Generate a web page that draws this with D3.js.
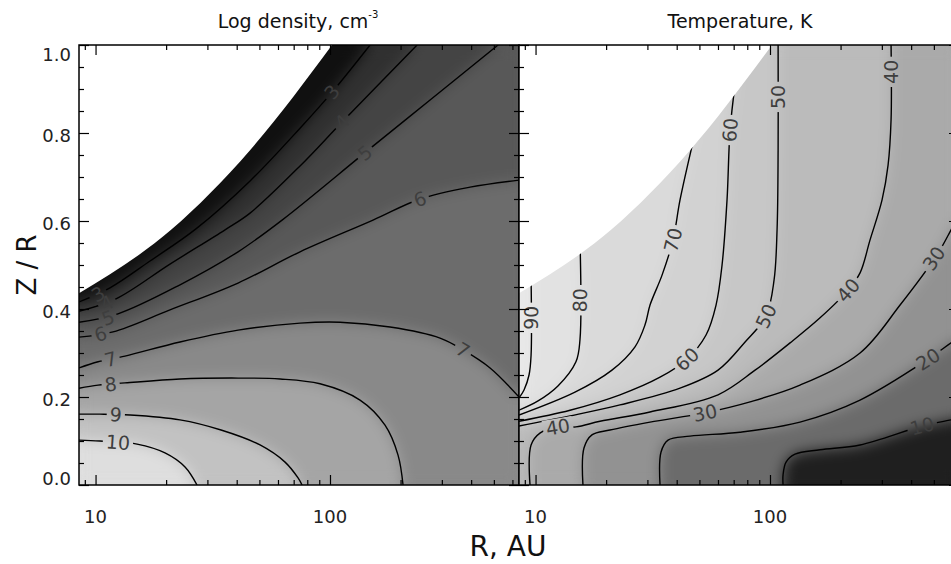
<!DOCTYPE html>
<html>
<head>
<meta charset="utf-8">
<script src="https://cdn.jsdelivr.net/npm/d3@7"></script>
<style>
  body { margin: 0; background: #fff; }
  text { font-family: "DejaVu Sans", sans-serif; }
</style>
</head>
<body>
<svg id="chart" width="951" height="564"></svg>
<script>
// ---- data: R in AU, z = Z/R ----
const rDomain = [8.5, 640];
const zDomain = [0, 1];
const zTicks = [0, 0.2, 0.4, 0.6, 0.8, 1.0];
const rTicks = [10, 100];
const rMinor = [9, 20, 30, 40, 50, 60, 70, 80, 90, 200, 300, 400, 500, 600];

// upper edge of the model grid (white above)
const gridEdge = [[8.5,0.436],[21,0.58],[45.6,0.761],[102,1.0]];

const densLevels = [3, 4, 5, 6, 7, 8, 9, 10];
const dens3 = [[8.5,0.416],[11.52,0.448],[17.07,0.509],[26.8,0.582],[45.6,0.691],[74.5,0.811],[102.1,0.893],[148.2,1.0]];
const dens4 = [[8.5,0.395],[12.22,0.423],[20.77,0.502],[35.67,0.580],[45.6,0.618],[74.5,0.725],[112.6,0.825],[235.2,1.0]];
const dens5 = [[8.5,0.370],[12.46,0.389],[22.92,0.455],[40.53,0.530],[62.45,0.602],[145.3,0.761],[267.2,0.875],[521.1,1.0]];
const dens6 = [[8.5,0.336],[11.87,0.348],[20.77,0.398],[40.53,0.459],[74.5,0.530],[152.6,0.602],[242.2,0.650],[395.8,0.677],[640,0.693]];
const dens7 = [[8.5,0.266],[10.25,0.280],[13.35,0.293],[22.92,0.325],[40.53,0.352],[74.5,0.368],[110.4,0.370],[180.4,0.359],[294.8,0.334],[369.5,0.307],[481.7,0.266],[640,0.200]];
const dens8 = [[8.5,0.220],[10.25,0.227],[13.35,0.232],[22.92,0.241],[40.53,0.243],[61.24,0.241],[90.7,0.230],[134.3,0.193],[171.7,0.136],[195.1,0.068],[204.9,0]];
const dens9 = [[8.5,0.161],[10.44,0.161],[14.03,0.159],[22.92,0.148],[34.3,0.125],[50.31,0.091],[64.32,0.052],[73.08,0.016],[76.0,0]];
const dens10 = [[8.5,0.102],[10.44,0.100],[15.03,0.093],[19.78,0.073],[24.08,0.041],[27.09,0]];
const densLines = [dens3, dens4, dens5, dens6, dens7, dens8, dens9, dens10];
// [level, R, z]
const densLabels = [[3,10.25,0.434],[4,11.19,0.414],[5,11.3,0.38],[6,10.5,0.343],[7,11.6,0.286],[8,11.6,0.229],
  [9,12.2,0.160],[10,12.46,0.097],[3,102,0.893],[4,112.6,0.825],[5,141,0.755],[6,242.2,0.650],[7,369.5,0.307]];

const tempLevels = [90, 80, 70, 60, 50, 40, 30, 20, 10];
const temp90 = [[9.57,0.47],[9.57,0.295],[9.38,0.25],[8.93,0.216],[8.5,0.198]];
const temp80 = [[15.47,0.56],[15.47,0.330],[14.87,0.280],[12.46,0.225],[10.25,0.191],[8.5,0.170]];
const temp70 = [[46.96,0.78],[41.33,0.648],[38.58,0.557],[34.64,0.477],[30.78,0.409],[29.31,0.364],[26.56,0.314],[21.18,0.261],[14.73,0.211],[8.5,0.159]];
const temp60 = [[70.96,0.91],[67.57,0.807],[65.58,0.648],[62.45,0.5],[58.87,0.409],[53.36,0.341],[44.27,0.286],[33.96,0.245],[22.92,0.205],[14.03,0.170],[8.5,0.145]];
const temp50 = [[108.3,1.0],[108.3,0.761],[107.2,0.580],[104.1,0.466],[96.2,0.384],[78.3,0.325],[60.04,0.261],[41.33,0.220],[22.92,0.182],[14.03,0.157],[8.5,0.134]];
const temp40 = [[328.4,1.0],[328.4,0.830],[318.9,0.727],[300.6,0.648],[267.2,0.557],[242.2,0.482],[215.3,0.443],[163.5,0.380],[121.8,0.323],[86.37,0.261],[60.04,0.205],[30.78,0.166],[18.84,0.145],[14.87,0.132],[12.46,0.132],[10.44,0.118],[9.57,0.091],[9.47,0]];
const temp30 = [[640,0.614],[592.1,0.580],[521.1,0.527],[358.8,0.409],[242.2,0.300],[134.3,0.227],[82.24,0.189],[52.84,0.164],[30.78,0.143],[20.77,0.125],[17.4,0.114],[16.09,0.084],[15.93,0]];
const temp20 = [[640,0.334],[592.1,0.323],[472.4,0.286],[242.2,0.193],[134.3,0.143],[74.5,0.120],[45.6,0.111],[36.74,0.102],[34.3,0.075],[33.96,0]];
const temp10 = [[640,0.152],[592.1,0.148],[445.4,0.134],[242.2,0.091],[163.5,0.080],[127.9,0.070],[117.1,0.052],[113.7,0.023],[113.7,0]];
const tempLines = [temp90, temp80, temp70, temp60, temp50, temp40, temp30, temp20, temp10];
const tempLabels = [[90,9.57,0.38],[80,15.47,0.42],[70,38.58,0.557],[60,67.57,0.807],[60,44.27,0.286],[50,108.3,0.882],
  [50,96.2,0.384],[40,328.4,0.939],[40,215.3,0.443],[40,12.46,0.132],[30,500,0.515],[30,52.84,0.164],[20,472.4,0.286],[10,445.4,0.134]];

// ---- layout ----
const W = 951, H = 564;
const yTop = 45, yBot = 485;
const svg = d3.select("#chart");
const defs = svg.append("defs");

const y = d3.scaleLinear().domain(zDomain).range([yBot, yTop]);
const xLeft = d3.scaleLog().domain(rDomain).range([79, 519]);
const xRight = d3.scaleLog().domain(rDomain).range([519, 959]);

const densGray = d3.scaleLinear().domain([2, 3.5, 6.5, 10.5, 11.5]).range([0, 48, 108, 222, 238]).clamp(true);
const tempGrayLog = d3.scaleLinear()
  .domain([5, 10, 20, 40, 100].map(Math.log10)).range([15, 75, 130, 180, 236]).clamp(true);
const tempGray = t => tempGrayLog(Math.log10(t));
const grey = g => { const v = Math.round(g); return d3.rgb(v, v, v).formatHex(); };

// blur, then make it opaque again so the panel edges keep their colour
const soft = defs.append("filter").attr("id", "soft")
  .attr("x", "-10%").attr("y", "-10%").attr("width", "120%").attr("height", "120%")
  .attr("color-interpolation-filters", "sRGB");
soft.append("feGaussianBlur").attr("stdDeviation", 7).attr("result", "b");
soft.append("feComponentTransfer").attr("in", "b")
  .append("feFuncA").attr("type", "table").attr("tableValues", "1 1");

const curve = d3.curveCatmullRom.alpha(0.5);

// walk the panel border clockwise from the end of a contour back to its start
function closeRing(pts, x0, x1, y0, y1) {
  const w = x1 - x0, h = y1 - y0, P = 2 * (w + h);
  const pos = p => {
    const d = [Math.abs(p[1]-y0), Math.abs(p[0]-x1), Math.abs(p[1]-y1), Math.abs(p[0]-x0)];
    const s = d.indexOf(Math.min(...d));
    if (s === 0) return [p[0]-x0, [p[0], y0]];
    if (s === 1) return [w + p[1]-y0, [x1, p[1]]];
    if (s === 2) return [w + h + x1 - p[0], [p[0], y1]];
    return [2*w + h + y1 - p[1], [x0, p[1]]];
  };
  const corners = [[0,[x0,y0]],[w,[x1,y0]],[w+h,[x1,y1]],[2*w+h,[x0,y1]]];
  const tEnd = pos(pts[pts.length-1])[0];
  const [tStart, pStart] = pos(pts[0]);
  const span = (tStart - tEnd + P) % P;
  const extra = corners.map(([t, c]) => [(t - tEnd + P) % P, c])
    .filter(([dt]) => dt > 0 && dt < span)
    .sort((a, b) => a[0] - b[0]).map(d => d[1]);
  extra.push(pStart);
  return extra;
}

function angleAt(pts, p) {
  let best = 0, bd = Infinity;
  pts.forEach((q, i) => {
    const d = (q[0]-p[0])**2 + (q[1]-p[1])**2;
    if (d < bd) { bd = d; best = i; }
  });
  const a = pts[Math.max(best-1, 0)], b = pts[Math.min(best+1, pts.length-1)];
  let ang = Math.atan2(b[1]-a[1], b[0]-a[0]) * 180 / Math.PI;
  if (ang >= 90) ang -= 180;
  else if (ang < -90) ang += 180;
  return ang;
}

function drawPanel(id, x, levels, lines, labels, bandColor, baseColor) {
  const [x0, x1] = x.range();
  const g = svg.append("g");
  defs.append("clipPath").attr("id", "clip-" + id)
    .append("rect").attr("x", x0).attr("y", yTop).attr("width", x1 - x0).attr("height", yBot - yTop);

  const px = lines.map(l => l.map(d => [x(d[0]), y(d[1])]));
  const order = d3.range(levels.length).sort((a, b) => levels[a] - levels[b]);
  const lineGen = d3.line().curve(curve);
  const ePts = gridEdge.map(d => [x(d[0]), y(d[1])]);
  const edgePath = d3.line().curve(d3.curveMonotoneX)(ePts);

  // area under the grid edge, for the contour lines
  defs.append("clipPath").attr("id", "under-" + id)
    .append("path").attr("d", edgePath + `L${x1},${yTop}L${x1},${yBot}L${x0},${yBot}Z`);

  // flat bands, with a blurred copy on top to smooth the steps
  const fills = g.append("g").attr("clip-path", `url(#clip-${id})`);
  [null, "url(#soft)"].forEach(f => {
    const layer = fills.append("g").attr("filter", f);
    layer.append("rect").attr("x", x0).attr("y", yTop)
      .attr("width", x1 - x0).attr("height", yBot - yTop).attr("fill", baseColor);
    order.forEach(i => {
      const ring = closeRing(px[i], x0, x1, yTop, yBot);
      layer.append("path")
        .attr("d", lineGen(px[i]) + ring.map(p => `L${p[0]},${p[1]}`).join("") + "Z")
        .attr("fill", bandColor(levels[i]));
    });
  });

  // white region above the grid edge
  fills.append("path")
    .attr("d", edgePath + `L${x0 - 5},${yTop - 5}L${x0 - 5},${ePts[0][1]}Z`)
    .attr("fill", "#fff");

  // label gaps
  const fs = 19;
  const lab = labels.map(([v, r, z]) => {
    const p = [x(r), y(z)];
    const i = levels.indexOf(v);
    return { v, p, a: angleAt(px[i], p) };
  });
  const mask = defs.append("mask").attr("id", "mask-" + id)
    .attr("maskUnits", "userSpaceOnUse").attr("x", 0).attr("y", 0).attr("width", W).attr("height", H);
  mask.append("rect").attr("width", W).attr("height", H).attr("fill", "#fff");
  lab.forEach(d => {
    const w = String(d.v).length * fs * 0.64 + 6, h = fs * 0.9;
    mask.append("rect").attr("x", -w/2).attr("y", -h/2).attr("width", w).attr("height", h)
      .attr("transform", `translate(${d.p[0]},${d.p[1]}) rotate(${d.a})`).attr("fill", "#000");
  });

  const lg = g.append("g").attr("clip-path", `url(#under-${id})`)
    .append("g").attr("mask", `url(#mask-${id})`);
  px.forEach(p => lg.append("path").attr("d", lineGen(p))
    .attr("fill", "none").attr("stroke", "#000").attr("stroke-width", 1.4));

  g.append("g").attr("clip-path", `url(#clip-${id})`).selectAll("text")
    .data(lab).join("text")
    .attr("transform", d => `translate(${d.p[0]},${d.p[1]}) rotate(${d.a})`)
    .attr("text-anchor", "middle").attr("dy", "0.36em")
    .attr("font-size", fs).attr("fill", "#3e3e3e")
    .text(d => d.v);

  // ticks on all four sides, pointing inward
  const minorZ = d3.range(0.05, 1, 0.05).filter(v => Math.abs(v * 5 - Math.round(v * 5)) > 1e-6);
  const axes = [
    [d3.axisBottom(x), `translate(0,${yBot})`, rTicks, rMinor],
    [d3.axisTop(x), `translate(0,${yTop})`, rTicks, rMinor],
    [d3.axisLeft(y), `translate(${x0},0)`, zTicks, minorZ],
    [d3.axisRight(y), `translate(${x1},0)`, zTicks, minorZ]
  ];
  axes.forEach(([ax, tr, maj, min]) => {
    [[maj, 10], [min, 5]].forEach(([vals, len]) => {
      const a = g.append("g").attr("transform", tr)
        .call(ax.tickValues(vals).tickSize(-len).tickFormat(""));
      a.select(".domain").remove();
      a.selectAll("line").attr("stroke-width", 1.2);
    });
  });

  g.append("rect").attr("x", x0).attr("y", yTop).attr("width", x1 - x0).attr("height", yBot - yTop)
    .attr("fill", "none").attr("stroke", "#000").attr("stroke-width", 1.5);

  g.selectAll(".rlab").data(rTicks).join("text")
    .attr("class", "rlab")
    .attr("x", d => x(d)).attr("y", 523)
    .attr("text-anchor", "middle").attr("font-size", 18).attr("fill", "#222")
    .text(d => d);
  return g;
}

drawPanel("dens", xLeft, densLevels, densLines, densLabels,
  v => grey(densGray(v + 0.5)), grey(densGray(2.5)));
drawPanel("temp", xRight, tempLevels, tempLines, tempLabels,
  v => grey(tempGray(v + 5)), grey(tempGray(6)));

// z/R labels on the left panel
svg.append("g").selectAll("text").data(zTicks).join("text")
  .attr("x", 71)
  .attr("y", d => y(d) + (d === 0 ? -6 : d === 1 ? 10 : 3))
  .attr("dy", "0.36em")
  .attr("text-anchor", "end").attr("font-size", 18).attr("fill", "#222")
  .text(d3.format(".1f"));

// titles
const t1 = svg.append("text").attr("x", 298).attr("y", 28)
  .attr("text-anchor", "middle").attr("font-size", 19).attr("fill", "#111");
t1.append("tspan").text("Log density, cm");
t1.append("tspan").attr("font-size", 10).attr("dy", -10).text("-3");

svg.append("text").attr("x", 740).attr("y", 28)
  .attr("text-anchor", "middle").attr("font-size", 19).attr("fill", "#111")
  .text("Temperature, K");

svg.append("text").attr("x", 508).attr("y", 556)
  .attr("text-anchor", "middle").attr("font-size", 28).attr("fill", "#111")
  .text("R, AU");

svg.append("text").attr("transform", "translate(36,265) rotate(-90)")
  .attr("text-anchor", "middle").attr("font-size", 26).attr("fill", "#111")
  .text("Z / R");
</script>
</body>
</html>
